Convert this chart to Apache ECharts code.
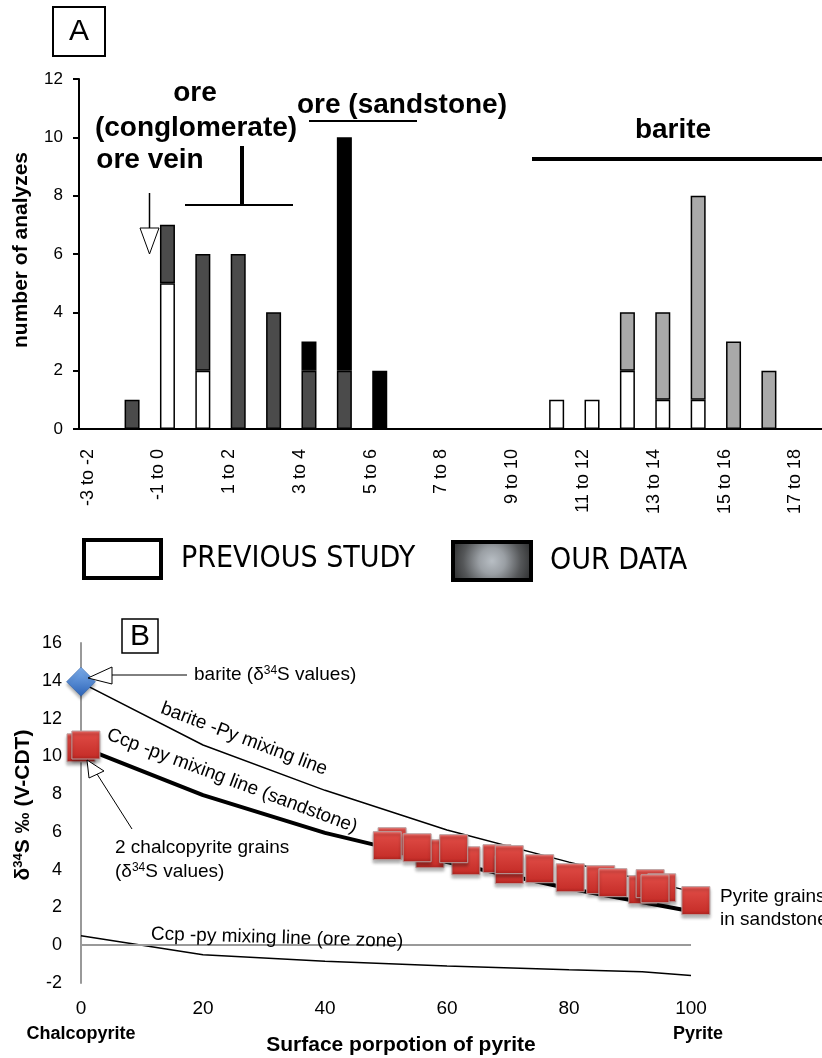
<!DOCTYPE html>
<html>
<head>
<meta charset="utf-8">
<script src="https://cdn.jsdelivr.net/npm/echarts@6/dist/echarts.min.js"></script>
<style>
html, body { margin: 0; padding: 0; background: #fff; }
#main { width: 822px; height: 1058px; }
</style>
</head>
<body>
<div id="main"></div>
<script>
// ---- panel A : histogram of d34S classes ----
var classes = ['-3 to -2', '-2 to -1', '-1 to 0', '0 to 1', '1 to 2', '2 to 3', '3 to 4', '4 to 5', '5 to 6', '6 to 7',
  '7 to 8', '8 to 9', '9 to 10', '10 to 11', '11 to 12', '12 to 13', '13 to 14', '14 to 15', '15 to 16', '16 to 17', '17 to 18'];
var previousStudy   = [0, 0, 5, 2, 0, 0, 0, 0, 0, 0, 0, 0, 0, 1, 1, 2, 1, 1, 0, 0, 0];
var oreConglomerate = [0, 1, 2, 4, 6, 4, 2, 2, 0, 0, 0, 0, 0, 0, 0, 0, 0, 0, 0, 0, 0];
var oreSandstone    = [0, 0, 0, 0, 0, 0, 1, 8, 2, 0, 0, 0, 0, 0, 0, 0, 0, 0, 0, 0, 0];
var bariteCounts    = [0, 0, 0, 0, 0, 0, 0, 0, 0, 0, 0, 0, 0, 0, 0, 2, 3, 7, 3, 2, 0];

// ---- panel B : mixing lines ----
var bariteLine  = [[0, 13.9], [20, 10.6], [40, 8.2], [60, 6.1], [80, 4.4], [100, 2.85]];
var ccpSandLine = [[0, 10.5], [20, 7.95], [40, 5.95], [60, 4.4], [80, 3.0], [100, 1.8]];
var ccpOreLine  = [[0, 0.5], [20, -0.5], [40, -0.85], [60, -1.1], [80, -1.3], [92, -1.4], [100, -1.6]];
var bariteValue = [[0, 13.95]];
var chalcopyrite = [[0, 10.45], [0.8, 10.6]];
var pyriteGrains = [[51.0, 5.48], [50.2, 5.27], [57.2, 4.84], [55.1, 5.16], [63.1, 4.47], [61.1, 5.11], [68.2, 4.58],
  [70.2, 4.0], [70.2, 4.53], [75.2, 4.05], [80.2, 3.57], [85.2, 3.47], [87.2, 3.31], [92.1, 2.94], [93.3, 3.26],
  [95.2, 3.04], [94.1, 2.99]];
var pyriteKey = [[100.8, 2.36]];

var FONT = 'Liberation Sans, Arial, sans-serif';
var NARROW = 'Liberation Sans Narrow, DejaVu Sans Condensed, sans-serif';

function nz(arr) {
  return arr.map(function (v) { return v ? v : null; });
}

function bar(name, data, color) {
  return {
    name: name, type: 'bar', stack: 'a', xAxisIndex: 0, yAxisIndex: 0,
    barWidth: 15, data: nz(data),
    itemStyle: { color: color, borderColor: '#000', borderWidth: 1.5 },
    silent: true
  };
}

function txt(x, y, s, size, opts) {
  opts = opts || {};
  return {
    type: 'text', x: x, y: y, rotation: opts.rot || 0, z: 100,
    style: {
      text: s, fill: '#000',
      font: (opts.bold ? 'bold ' : '') + size + 'px ' + (opts.family || FONT),
      align: opts.align || 'center', verticalAlign: 'middle',
      rich: opts.rich
    }
  };
}

function seg(x1, y1, x2, y2, w) {
  return { type: 'line', z: 100, shape: { x1: x1, y1: y1, x2: x2, y2: y2 }, style: { stroke: '#000', lineWidth: w } };
}

function tri(pts) {
  return { type: 'polygon', z: 100, shape: { points: pts }, style: { fill: '#fff', stroke: '#000', lineWidth: 1 } };
}

var redSquare = {
  opacity: 1,
  color: new echarts.graphic.LinearGradient(0, 0, 0, 1, [
    { offset: 0, color: '#ee7470' }, { offset: 0.12, color: '#de4a44' }, { offset: 0.85, color: '#c8302b' }, { offset: 1, color: '#a8201c' }
  ]),
  borderColor: '#b8a0a0', borderWidth: 1,
  shadowBlur: 3, shadowColor: 'rgba(0,0,0,0.3)', shadowOffsetY: 3
};

var supRich = {
  sup: { fontSize: 12, fontFamily: FONT, padding: [0, 0, 8, 0] }
};
var supRichBold = {
  sup: { fontSize: 13, fontWeight: 'bold', fontFamily: FONT, padding: [0, 0, 9, 0] }
};

var chart = echarts.init(document.getElementById('main'));

chart.setOption({
  backgroundColor: '#fff',
  animation: false,
  textStyle: { fontFamily: FONT, color: '#000' },
  grid: [
    { left: 79, top: 79, width: 745, height: 350 },
    { left: 81, top: 643, width: 610, height: 340 }
  ],
  xAxis: [
    {
      type: 'category', gridIndex: 0, data: classes,
      axisLine: { lineStyle: { color: '#000', width: 2 } },
      axisTick: { alignWithLabel: false, interval: 0, length: 7, lineStyle: { color: '#000', width: 2 } },
      axisLabel: { interval: 1, rotate: 90, fontSize: 18, color: '#000', margin: 20, verticalAlign: 'bottom' },
      splitLine: { show: false }
    },
    {
      type: 'value', gridIndex: 1, min: 0, max: 100, interval: 20,
      axisLine: { show: false, onZero: false }, axisTick: { show: false }, splitLine: { show: false },
      axisLabel: { fontSize: 19, color: '#000', margin: 16 }
    }
  ],
  yAxis: [
    {
      type: 'value', gridIndex: 0, min: 0, max: 12, interval: 2,
      axisLine: { show: true, lineStyle: { color: '#000', width: 2 } },
      axisTick: { show: true, length: 6, lineStyle: { color: '#000', width: 2 } },
      axisLabel: { fontSize: 17, color: '#000', margin: 16 },
      splitLine: { show: false }
    },
    {
      type: 'value', gridIndex: 1, min: -2, max: 16, interval: 2,
      axisLine: { show: true, lineStyle: { color: '#999', width: 2 } },
      axisTick: { show: false }, splitLine: { show: false },
      axisLabel: { fontSize: 18, color: '#000', margin: 19 }
    }
  ],
  series: [
    bar('PREVIOUS STUDY', previousStudy, '#ffffff'),
    bar('ore (conglomerate)', oreConglomerate, '#4b4b4b'),
    bar('ore (sandstone)', oreSandstone, '#000000'),
    bar('barite', bariteCounts, '#a9a9a9'),
    {
      name: 'Ccp-py ore zone', type: 'line', xAxisIndex: 1, yAxisIndex: 1, data: ccpOreLine, z: 2,
      symbol: 'none', lineStyle: { color: '#000', width: 1.5 }, silent: true,
      markLine: {
        silent: true, symbol: 'none', label: { show: false },
        lineStyle: { color: '#999', width: 2, type: 'solid' },
        data: [{ yAxis: 0 }]
      }
    },
    {
      name: 'barite-Py', type: 'line', xAxisIndex: 1, yAxisIndex: 1, data: bariteLine, z: 2,
      symbol: 'none', lineStyle: { color: '#000', width: 1.5 }, silent: true
    },
    {
      name: 'Ccp-py sandstone', type: 'line', xAxisIndex: 1, yAxisIndex: 1, data: ccpSandLine, z: 2,
      symbol: 'none', lineStyle: { color: '#000', width: 4 }, silent: true
    },
    {
      name: 'barite', type: 'scatter', xAxisIndex: 1, yAxisIndex: 1, data: bariteValue, clip: false,
      symbol: 'diamond', symbolSize: 29, z: 5,
      itemStyle: {
        opacity: 1,
        color: new echarts.graphic.LinearGradient(0, 0, 0, 1, [
          { offset: 0, color: '#7fb0ee' }, { offset: 1, color: '#2c63b6' }
        ]),
        borderColor: '#2a5aa0', borderWidth: 0.5,
        shadowBlur: 3, shadowColor: 'rgba(0,0,0,0.3)', shadowOffsetY: 3
      }
    },
    {
      name: 'chalcopyrite', type: 'scatter', xAxisIndex: 1, yAxisIndex: 1, data: chalcopyrite, clip: false,
      symbol: 'rect', symbolSize: 28, z: 5, itemStyle: redSquare
    },
    {
      name: 'pyrite', type: 'scatter', xAxisIndex: 1, yAxisIndex: 1, data: pyriteGrains, clip: false,
      symbol: 'rect', symbolSize: 28, z: 5, itemStyle: redSquare
    },
    {
      name: 'pyrite key', type: 'scatter', xAxisIndex: 1, yAxisIndex: 1, data: pyriteKey, clip: false,
      symbol: 'rect', symbolSize: 28, z: 5, itemStyle: redSquare
    }
  ],
  graphic: [
    // panel A frame letter
    { type: 'rect', z: 100, shape: { x: 53, y: 7, width: 52, height: 49 }, style: { fill: '#fff', stroke: '#000', lineWidth: 2 } },
    txt(79, 32, 'A', 30),
    txt(21, 250, 'number of analyzes', 21, { bold: true, rot: Math.PI / 2 }),
    // group annotations
    txt(195, 93, 'ore', 28, { bold: true }),
    txt(196, 128, '(conglomerate)', 28, { bold: true }),
    txt(150, 160, 'ore vein', 28, { bold: true }),
    txt(402, 105, 'ore (sandstone)', 28, { bold: true }),
    txt(673, 130, 'barite', 28, { bold: true }),
    seg(149.5, 193, 149.5, 228, 1.5),
    tri([[140, 228], [159, 228], [149.5, 254]]),
    seg(185, 205, 293, 205, 2),
    seg(242, 146, 242, 204, 4),
    seg(309, 121, 417, 121, 2),
    seg(532, 159, 822, 159, 4),
    // legend
    { type: 'rect', z: 100, shape: { x: 84, y: 540, width: 77, height: 38 }, style: { fill: '#fff', stroke: '#000', lineWidth: 4 } },
    txt(181, 559, 'PREVIOUS STUDY', 30, { align: 'left', family: NARROW }),
    {
      type: 'rect', z: 100, shape: { x: 453, y: 542, width: 78, height: 38 },
      style: {
        fill: new echarts.graphic.RadialGradient(0.5, 0.5, 1.25, [
          { offset: 0, color: '#b8bec4' }, { offset: 0.25, color: '#9a9fa4' },
          { offset: 0.55, color: '#555759' }, { offset: 1, color: '#111' }
        ]),
        stroke: '#000', lineWidth: 4
      }
    },
    txt(550, 561, 'OUR DATA', 30, { align: 'left', family: NARROW }),

    // panel B
    { type: 'rect', z: 100, shape: { x: 122, y: 619, width: 36, height: 34 }, style: { fill: '#fff', stroke: '#000', lineWidth: 1.5 } },
    txt(140, 637, 'B', 30),
    txt(23, 805, 'δ{sup|34}S ‰ (V-CDT)', 21, { bold: true, rot: Math.PI / 2, rich: supRichBold }),
    seg(112, 675, 187, 675, 1),
    tri([[88, 678], [112, 667], [112, 684]]),
    txt(194, 675, 'barite (δ{sup|34}S values)', 19, { align: 'left', rich: supRich }),
    seg(132, 829, 97, 774, 1),
    tri([[87, 760], [89, 778], [104, 771]]),
    txt(115, 848, '2 chalcopyrite grains', 19, { align: 'left' }),
    txt(115, 872, '(δ{sup|34}S values)', 19, { align: 'left', rich: supRich }),
    txt(244, 739, 'barite -Py mixing line', 19, { rot: -0.36 }),
    txt(232, 781, 'Ccp -py mixing line (sandstone)', 19, { rot: -0.36 }),
    txt(277, 938, 'Ccp -py mixing line (ore zone)', 19, { rot: -0.03 }),
    txt(720, 897, 'Pyrite grains', 19, { align: 'left' }),
    txt(720, 920, 'in sandstone', 19, { align: 'left' }),
    txt(81, 1034, 'Chalcopyrite', 18, { bold: true }),
    txt(698, 1034, 'Pyrite', 18, { bold: true }),
    txt(401, 1045, 'Surface porpotion of pyrite', 21, { bold: true })
  ]
});
</script>
</body>
</html>
